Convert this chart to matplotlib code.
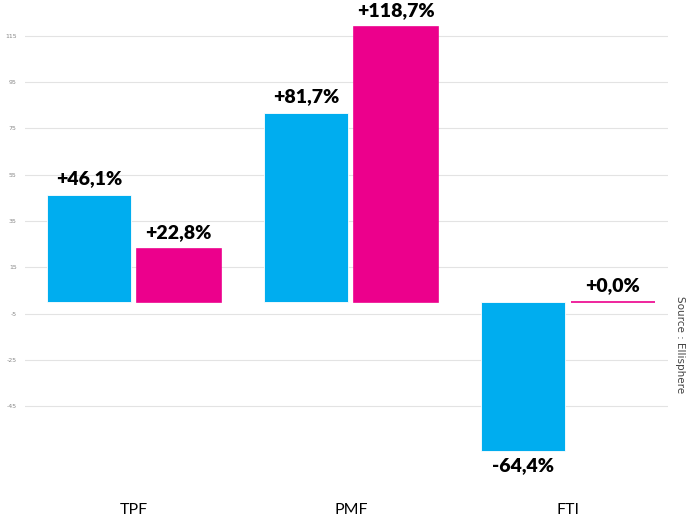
import numpy as np
import matplotlib.pyplot as plt

categories = ["TPF", "PMF", "FTI"]
serie_bleue = [46.1, 81.7, -64.4]
serie_rose = [22.8, 118.7, 0.0]
yticks = [115, 95, 75, 55, 35, 15, -5, -25, -45]

bleu = "#00ADEF"
rose = "#EC008C"

fig = plt.figure(figsize=(6.86, 5.15), dpi=100)
ax = fig.add_axes([25 / 686, 25 / 515, 643 / 686, 490 / 515])

x = np.arange(len(categories))
w = 0.387
off = 0.206

ax.bar(x - off, serie_bleue, w, color=bleu, edgecolor="white", linewidth=0.6, zorder=2)
ax.bar(x + off, serie_rose, w, color=rose, edgecolor=rose, linewidth=1.2, zorder=2)


def etiquette(v):
    s = f"{v:+.1f}%".replace(".", ",")
    return s


for xi, v in zip(x - off, serie_bleue):
    va = "bottom" if v >= 0 else "top"
    dy = 6 if v >= 0 else -4
    ax.annotate(etiquette(v), (xi, v), xytext=(0, dy), textcoords="offset points",
                ha="center", va=va, fontsize=14, fontweight="heavy",
                family="Lato", color="black")
for xi, v in zip(x + off, serie_rose):
    ax.annotate(etiquette(v), (xi, v), xytext=(0, 6), textcoords="offset points",
                ha="center", va="bottom", fontsize=14, fontweight="heavy",
                family="Lato", color="black")

ax.set_xlim(-0.502, 2.461)
ax.set_ylim(-81.2, 130.5)
ax.set_yticks(yticks)
ax.set_yticklabels([str(t) for t in yticks], fontsize=4.5, color="#888888")
ax.set_xticks(x)
ax.set_xticklabels(categories, fontsize=11.5, family="Lato", color="black")
ax.tick_params(axis="both", length=0)
ax.tick_params(axis="x", pad=9)
ax.tick_params(axis="y", pad=6)
ax.grid(axis="y", color="#e3e3e3", linewidth=0.8, zorder=0)
for s in ax.spines.values():
    s.set_visible(False)

fig.text(680 / 686, 1 - 345 / 515, "Source : Ellisphere", rotation=-90,
         ha="center", va="center", fontsize=7.5, color="#444444")

fig.savefig("out.png", dpi=100)
